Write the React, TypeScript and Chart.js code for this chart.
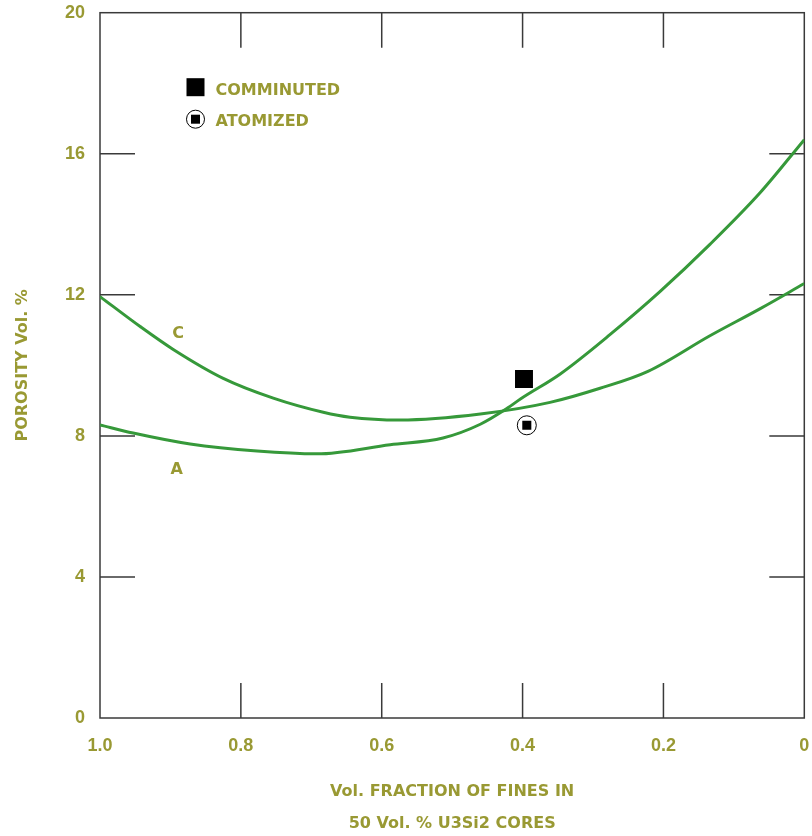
import React, { useEffect, useRef } from 'react';
import { Chart, registerables } from 'chart.js';

Chart.register(...registerables);

// ---- data ----
const curveAX = [1.0, 0.953, 0.872, 0.777, 0.692, 0.588, 0.513, 0.46, 0.422, 0.402, 0.347, 0.276, 0.205, 0.134, 0.0625, 0];
const curveAY = [8.31, 8.08, 7.77, 7.57, 7.49, 7.75, 7.94, 8.33, 8.78, 9.06, 9.75, 10.87, 12.09, 13.43, 14.9, 16.4];
const curveCX = [1.0, 0.943, 0.896, 0.825, 0.754, 0.683, 0.645, 0.574, 0.46, 0.361, 0.29, 0.222, 0.134, 0.0625, 0];
const curveCY = [11.95, 11.1, 10.45, 9.63, 9.07, 8.67, 8.53, 8.45, 8.62, 8.95, 9.35, 9.83, 10.84, 11.61, 12.32];
const comminutedX = [0.398];
const comminutedY = [9.61];
const atomizedX = [0.394];
const atomizedY = [8.3];
const curveLabels = ['C', 'A'];
const curveLabelX = [0.889, 0.891];
const curveLabelY = [10.88, 7.03];
const legendLabels = ['COMMINUTED', 'ATOMIZED'];
const xTitle = ['Vol. FRACTION OF FINES IN', '50 Vol. % U3Si2 CORES'];
const yTitle = 'POROSITY Vol. %';

const OLIVE = '#999933';
const GREEN = '#36993a';
const FRAME = '#3a3a3a';
const TITLE_FONT = '"DejaVu Sans", sans-serif';
const TICK_FONT = '"Liberation Sans", Arial, sans-serif';

const pts = (xs: number[], ys: number[]) => xs.map((x, i) => ({ x, y: ys[i] }));

const framePlugin = {
  id: 'frameTicks',
  beforeDatasetsDraw(chart: any) {
    const { ctx, chartArea: a, scales } = chart;
    const xs = scales.x, ys = scales.y;
    const len = 35;
    ctx.save();
    ctx.strokeStyle = FRAME;
    ctx.lineWidth = 1.5;
    ctx.strokeRect(a.left, a.top, a.right - a.left, a.bottom - a.top);
    ctx.beginPath();
    xs.ticks.forEach((t: any) => {
      if (t.value <= 0.0001 || t.value >= 0.9999) return;
      const px = xs.getPixelForValue(t.value);
      ctx.moveTo(px, a.top); ctx.lineTo(px, a.top + len);
      ctx.moveTo(px, a.bottom); ctx.lineTo(px, a.bottom - len);
    });
    ys.ticks.forEach((t: any) => {
      if (t.value <= 0 || t.value >= 20) return;
      const py = ys.getPixelForValue(t.value);
      ctx.moveTo(a.left, py); ctx.lineTo(a.left + len, py);
      ctx.moveTo(a.right, py); ctx.lineTo(a.right - len, py);
    });
    ctx.stroke();
    ctx.restore();
  },
  afterDraw(chart: any) {
    const { ctx, chartArea: a, scales } = chart;
    ctx.save();
    ctx.fillStyle = OLIVE;
    ctx.font = `bold 16px ${TITLE_FONT}`;
    ctx.textAlign = 'center';
    ctx.textBaseline = 'middle';
    curveLabels.forEach((l, i) => {
      ctx.fillText(l, scales.x.getPixelForValue(curveLabelX[i]), scales.y.getPixelForValue(curveLabelY[i]));
    });
    // legend
    const mx = a.left + 95.5;
    const y1 = a.top + 74.5;
    const y2 = a.top + 106.5;
    ctx.fillStyle = '#000';
    ctx.fillRect(mx - 9, y1 - 9, 18, 18);
    ctx.beginPath();
    ctx.arc(mx, y2, 9, 0, Math.PI * 2);
    ctx.fillStyle = '#fff';
    ctx.fill();
    ctx.strokeStyle = '#000';
    ctx.lineWidth = 1;
    ctx.stroke();
    ctx.fillStyle = '#000';
    ctx.fillRect(mx - 4.5, y2 - 4.5, 9, 9);
    ctx.fillStyle = OLIVE;
    ctx.textAlign = 'left';
    ctx.fillText(legendLabels[0], mx + 20, y1 + 4);
    ctx.fillText(legendLabels[1], mx + 20, y2 + 2.5);
    ctx.restore();
  },
};

export default function App() {
  const ref = useRef<HTMLCanvasElement>(null);
  useEffect(() => {
    if (!ref.current) return;
    const chart = new Chart(ref.current, {
      type: 'scatter',
      data: {
        datasets: [
          { data: pts(atomizedX, atomizedY), pointStyle: 'rect', pointRadius: 6.4, backgroundColor: '#000', borderColor: '#000', borderWidth: 0 },
          { data: pts(atomizedX, atomizedY), pointStyle: 'circle', pointRadius: 9.5, backgroundColor: '#fff', borderColor: '#000', borderWidth: 1 },
          { data: pts(comminutedX, comminutedY), pointStyle: 'rect', pointRadius: 12.7, backgroundColor: '#000', borderColor: '#000', borderWidth: 0 },
          { data: pts(curveCX, curveCY), showLine: true, borderColor: GREEN, borderWidth: 3, pointRadius: 0, cubicInterpolationMode: 'monotone', fill: false },
          { data: pts(curveAX, curveAY), showLine: true, borderColor: GREEN, borderWidth: 3, pointRadius: 0, cubicInterpolationMode: 'monotone', fill: false },
        ],
      },
      options: {
        responsive: false,
        animation: false,
        events: [],
        layout: { padding: { left: 0, right: 3, top: 10, bottom: 0 } },
        plugins: { legend: { display: false }, tooltip: { enabled: false }, title: { display: false } },
        scales: {
          x: {
            type: 'linear',
            reverse: true,
            min: 0,
            max: 1,
            grid: { display: false, drawTicks: false },
            border: { display: false },
            ticks: {
              stepSize: 0.2,
              padding: 17,
              color: OLIVE,
              font: { family: TICK_FONT, size: 18, weight: 'bold', lineHeight: 1.2 },
              callback: (v: any) => (Math.abs(Number(v)) < 1e-9 ? '0' : Number(v).toFixed(1)),
            },
            title: {
              display: true,
              text: xTitle,
              color: OLIVE,
              font: { family: TITLE_FONT, size: 16, weight: 'bold', lineHeight: 2 },
              padding: { top: 0, bottom: -4 },
            },
            afterFit: (s: any) => { s.height = 118; s.paddingLeft = 0; s.paddingRight = 0; },
          },
          y: {
            type: 'linear',
            min: 0,
            max: 20,
            grid: { display: false, drawTicks: false },
            border: { display: false },
            ticks: {
              stepSize: 4,
              padding: 15,
              color: OLIVE,
              font: { family: TICK_FONT, size: 18, weight: 'bold', lineHeight: 1 },
            },
            title: {
              display: true,
              text: yTitle,
              color: OLIVE,
              font: { family: TITLE_FONT, size: 16, weight: 'bold', lineHeight: 1.2 },
              padding: { top: 13, bottom: 0 },
            },
            afterFit: (s: any) => { s.width = 100; s.paddingTop = 0; s.paddingBottom = 0; },
          },
        },
      } as any,
      plugins: [framePlugin],
    });
    return () => chart.destroy();
  }, []);
  return (
    <div style={{ position: 'absolute', left: 0, top: 0, width: 812, height: 836, overflow: 'hidden', background: '#fff' }}>
      <canvas ref={ref} width={817} height={836} style={{ display: 'block' }} />
    </div>
  );
}
